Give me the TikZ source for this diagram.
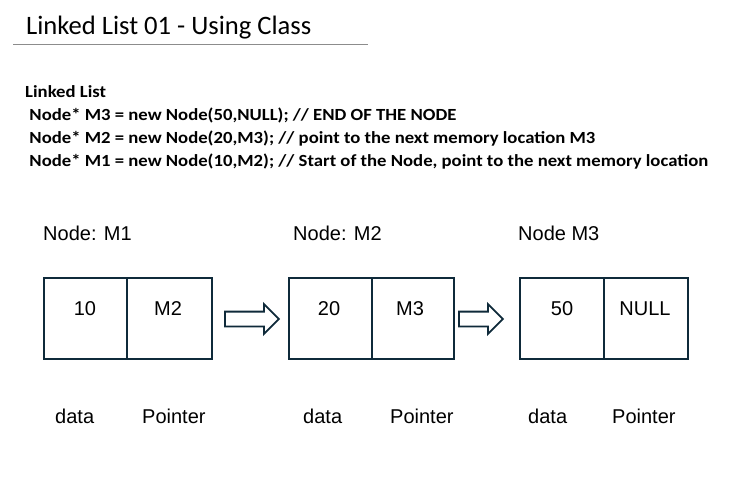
\documentclass[tikz,border=0pt]{standalone}
\usepackage{fontspec}
\setmainfont{Liberation Sans}
\newfontfamily\calibri{Carlito}
\usetikzlibrary{shapes.arrows}
\definecolor{ink}{HTML}{0F2A3A}
\definecolor{rulegray}{HTML}{8C8C8C}
\newcommand\codeline[1]{\scalebox{1.1}[1]{#1}}
\tikzset{
  txt/.style={anchor=base west, inner sep=0pt, font=\fontsize{20}{24}\selectfont},
  celltxt/.style={anchor=base, inner sep=0pt, font=\fontsize{20}{24}\selectfont},
  codetxt/.style={anchor=base west, inner sep=0pt, font=\calibri\bfseries\fontsize{17}{20}\selectfont},
  cell/.style={draw=ink, line width=1.8pt, minimum height=81pt, inner sep=0pt, anchor=north west},
  nextarrow/.style={single arrow, draw=ink, line width=1.8pt, fill=white,
    single arrow head extend=7.5pt, inner sep=6.5pt, anchor=west},
}
\begin{document}
\begin{tikzpicture}[x=1pt,y=-1pt]
\useasboundingbox (0,0) rectangle (749,477);

% heading
\node[anchor=base west, inner sep=0pt, font=\calibri\fontsize{26.6}{30}\selectfont] (title) at (26,34) {Linked List 01 - Using Class};
\draw[rulegray, line width=1pt] (13,44) -- (368,44);

% code listing
\node[codetxt] (c0) at (25,97) {\codeline{Linked List}};
\node[codetxt] (c1) at (25,120) {\codeline{\ Node* M3 = new Node(50,NULL); // END OF THE NODE}};
\node[codetxt] (c2) at (25,143) {\codeline{\ Node* M2 = new Node(20,M3); // point to the next memory location M3}};
\node[codetxt] (c3) at (25,166) {\codeline{\ Node* M1 = new Node(10,M2); // Start of the Node, point to the next memory location}};

% node captions
\node[txt] (n1) at (43,240) {Node: M1};
\node[txt] (n2) at (293,240) {Node: M2};
\node[txt] (n3) at (518,240) {Node M3};

% first node
\node[cell, minimum width=83pt] (d1) at (43,277) {};
\node[cell, minimum width=85pt] (p1) at (126,277) {};
% second node
\node[cell, minimum width=83pt] (d2) at (288,277) {};
\node[cell, minimum width=82pt] (p2) at (371,277) {};
% third node
\node[cell, minimum width=84pt] (d3) at (519,277) {};
\node[cell, minimum width=84pt] (p3) at (603,277) {};

% cell contents
\node[celltxt] (v1) at (85,315) {10};
\node[celltxt] (v2) at (168,315) {M2};
\node[celltxt] (v3) at (329,315) {20};
\node[celltxt] (v4) at (410,315) {M3};
\node[celltxt] (v5) at (562,315) {50};
\node[celltxt] (v6) at (645,315) {NULL};

% links
\node[nextarrow, minimum height=54pt] (a1) at (224,319) {};
\node[nextarrow, minimum height=44pt] (a2) at (458,319) {};

% field names
\node[txt] (l1) at (55,423) {data};
\node[txt] (l2) at (142,423) {Pointer};
\node[txt] (l3) at (303,423) {data};
\node[txt] (l4) at (390,423) {Pointer};
\node[txt] (l5) at (528,423) {data};
\node[txt] (l6) at (612,423) {Pointer};
\end{tikzpicture}
\end{document}
